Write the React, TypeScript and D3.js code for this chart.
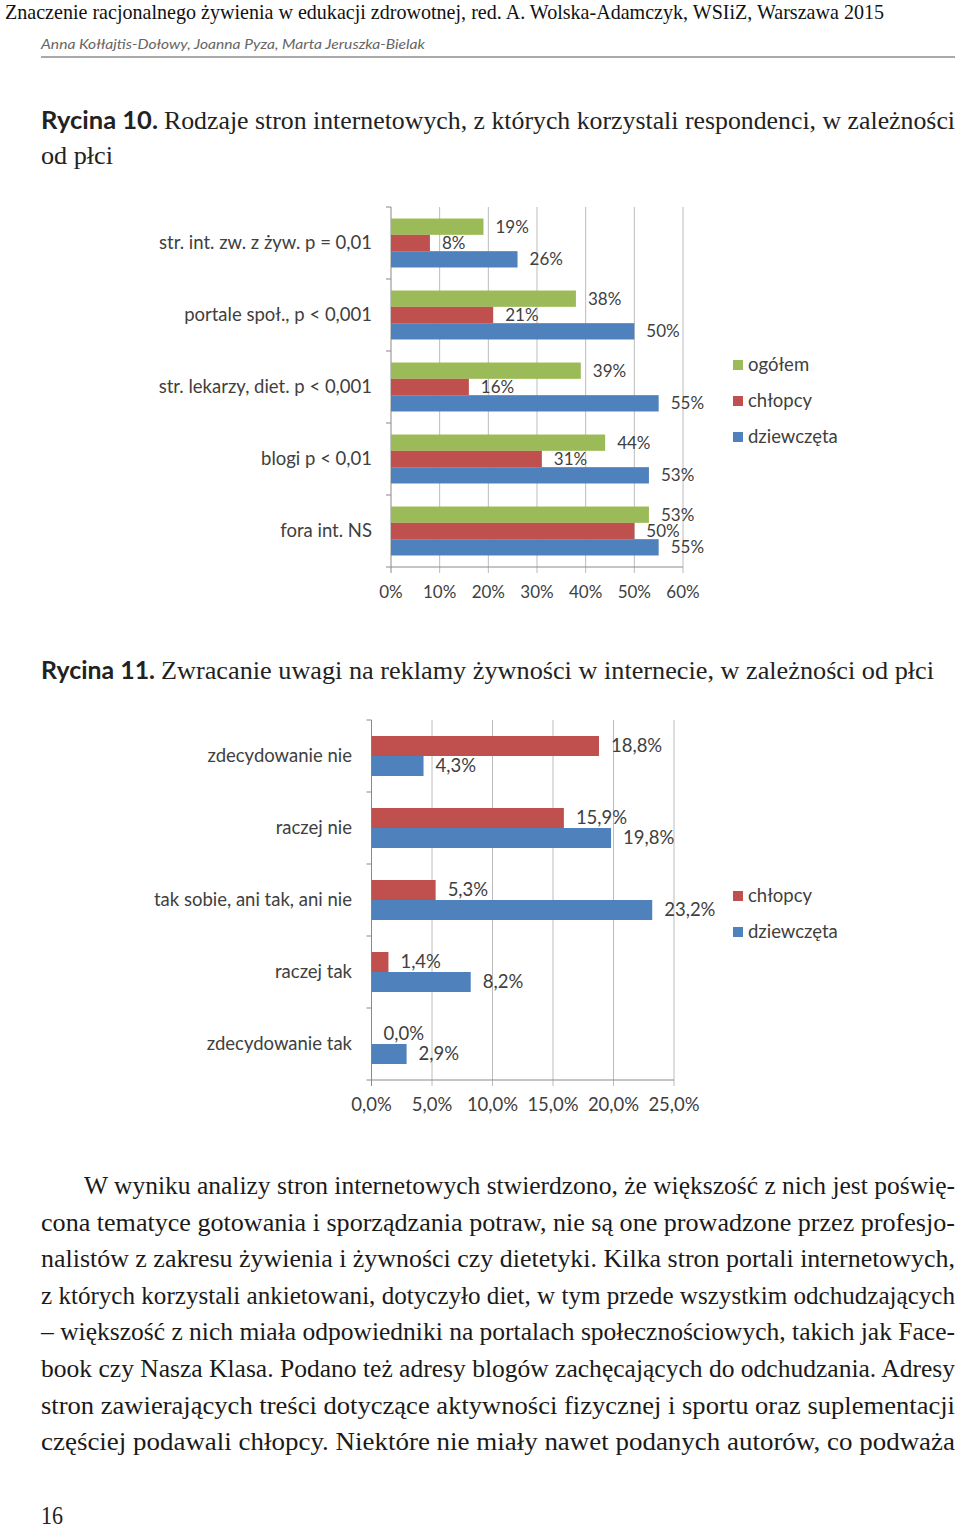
import React from "react";
import * as d3 from "d3";

// ---------- Data: Rycina 10 ----------
const cats1 = [
  "str. int. zw. z żyw. p = 0,01",
  "portale społ., p < 0,001",
  "str. lekarzy, diet. p < 0,001",
  "blogi p < 0,01",
  "fora int. NS",
];
const series1 = ["ogółem", "chłopcy", "dziewczęta"];
const ogolem1 = [19, 38, 39, 44, 53];
const chlopcy1 = [8, 21, 16, 31, 50];
const dziewczeta1 = [26, 50, 55, 53, 55];
const ticks1 = [0, 10, 20, 30, 40, 50, 60];

// ---------- Data: Rycina 11 ----------
const cats2 = [
  "zdecydowanie nie",
  "raczej nie",
  "tak sobie, ani tak, ani nie",
  "raczej tak",
  "zdecydowanie tak",
];
const series2 = ["chłopcy", "dziewczęta"];
const chlopcy2 = [18.8, 15.9, 5.3, 1.4, 0.0];
const dziewczeta2 = [4.3, 19.8, 23.2, 8.2, 2.9];
const ticks2 = [0, 5, 10, 15, 20, 25];

const colors: Record<string, string> = {
  "ogółem": "#9BBB59",
  "chłopcy": "#C0504D",
  "dziewczęta": "#4F81BD",
};

const headerText =
  "Znaczenie racjonalnego żywienia w edukacji zdrowotnej, red. A. Wolska-Adamczyk, WSIiZ, Warszawa 2015";
const authorsText = "Anna Kołłajtis-Dołowy, Joanna Pyza, Marta Jeruszka-Bielak";
const title1a = "Rycina 10.";
const title1b = "Rodzaje stron internetowych, z których korzystali respondenci, w zależności";
const title1c = "od płci";
const title2a = "Rycina 11.";
const title2b = "Zwracanie uwagi na reklamy żywności w internecie, w zależności od płci";
const bodyLines = [
  "W wyniku analizy stron internetowych stwierdzono, że większość z nich jest poświę-",
  "cona tematyce gotowania i sporządzania potraw, nie są one prowadzone przez profesjo-",
  "nalistów z zakresu żywienia i żywności czy dietetyki. Kilka stron portali internetowych,",
  "z których korzystali ankietowani, dotyczyło diet, w tym przede wszystkim odchudzających",
  "– większość z nich miała odpowiedniki na portalach społecznościowych, takich jak Face-",
  "book czy Nasza Klasa. Podano też adresy blogów zachęcających do odchudzania. Adresy",
  "stron zawierających treści dotyczące aktywności fizycznej i sportu oraz suplementacji",
  "częściej podawali chłopcy. Niektóre nie miały nawet podanych autorów, co podważa",
];
const pageNumber = "16";

const chartFont = "Lato, 'Open Sans', sans-serif";
const serif = "'Liberation Serif', 'DejaVu Serif', serif";
const textCol = "#404040";

type ChartProps = {
  cats: string[];
  series: string[];
  values: number[][];
  ticks: number[];
  xMax: number;
  x0: number;
  x1: number;
  y0: number;
  y1: number;
  outerPad: number;
  labelRight: number;
  fmt: (v: number) => string;
  legendX: number;
  legendY: number[];
  numSize: number;
};

function BarChart(p: ChartProps) {
  const x = d3.scaleLinear().domain([0, p.xMax]).range([p.x0, p.x1]);
  const y = d3.scaleBand<string>().domain(p.cats).range([p.y0, p.y1]);
  const inner = d3
    .scaleBand<string>()
    .domain(p.series)
    .range([0, y.bandwidth()])
    .paddingInner(0)
    .paddingOuter(p.outerPad);
  const boundaries = p.cats.map((c) => y(c)!).concat([p.y1]);
  const catSize = 18.5;
  return (
    <g fontFamily={chartFont}>
      {p.ticks.map((t) => (
        <line
          key={"g" + t}
          x1={x(t)}
          x2={x(t)}
          y1={p.y0}
          y2={p.y1 + 6}
          stroke={t === 0 ? "#8a8a8a" : "#bcbcbc"}
          strokeWidth={1}
        />
      ))}
      <line x1={p.x0} x2={p.x1} y1={p.y1} y2={p.y1} stroke="#8a8a8a" />
      {boundaries.map((b, i) => (
        <line key={"yt" + i} x1={p.x0 - 5} x2={p.x0} y1={b} y2={b} stroke="#8a8a8a" />
      ))}
      {p.cats.map((c, ci) =>
        p.series.map((s, si) => {
          const v = p.values[si][ci];
          const by = y(c)! + inner(s)!;
          return (
            <rect
              key={c + s}
              x={p.x0}
              y={by}
              width={x(v) - p.x0}
              height={inner.bandwidth()}
              fill={colors[s]}
            />
          );
        })
      )}
      {p.cats.map((c, ci) =>
        p.series.map((s, si) => {
          const v = p.values[si][ci];
          const by = y(c)! + inner(s)! + inner.bandwidth() / 2;
          return (
            <text
              key={"l" + c + s}
              x={x(v) + 12}
              y={by + 6}
              fontSize={p.numSize}
              fill={textCol}
            >
              {p.fmt(v)}
            </text>
          );
        })
      )}
      {p.cats.map((c) => (
        <text
          key={"c" + c}
          x={p.labelRight}
          y={y(c)! + y.bandwidth() / 2 + 6}
          fontSize={catSize}
          textAnchor="end"
          fill={textCol}
        >
          {c}
        </text>
      ))}
      {p.ticks.map((t) => (
        <text
          key={"xl" + t}
          x={x(t)}
          y={p.y1 + 31}
          fontSize={p.numSize}
          textAnchor="middle"
          fill={textCol}
        >
          {p.fmt(t)}
        </text>
      ))}
      {p.series.map((s, i) => (
        <g key={"lg" + s}>
          <rect x={p.legendX} y={p.legendY[i] - 5} width={10} height={10} fill={colors[s]} />
          <text x={p.legendX + 15} y={p.legendY[i] + 6} fontSize={catSize} fill={textCol}>
            {s}
          </text>
        </g>
      ))}
    </g>
  );
}

export default function App() {
  const fmtPct = (v: number) => `${d3.format(".0f")(v)}%`;
  const fmtPct1 = (v: number) => `${d3.format(".1f")(v).replace(".", ",")}%`;
  return (
    <svg
      width={960}
      height={1526}
      style={{ position: "absolute", left: 0, top: 0, background: "#fff" }}
    >
      <rect x={0} y={0} width={960} height={1526} fill="#fff" />
      <text x={5} y={19} fontFamily={serif} fontSize={21} fill="#111" textLength={879} lengthAdjust="spacingAndGlyphs">
        {headerText}
      </text>
      <text x={41} y={49} fontFamily={chartFont} fontStyle="italic" fontSize={14} fill="#666" textLength={384} lengthAdjust="spacingAndGlyphs">
        {authorsText}
      </text>
      <line x1={41} x2={955} y1={57} y2={57} stroke="#8c8c8c" strokeWidth={1.5} />

      <text x={41} y={129} fontFamily={chartFont} fontWeight={700} fontSize={24} fill="#222" textLength={117} lengthAdjust="spacingAndGlyphs">
        {title1a}
      </text>
      <text x={164} y={129} fontFamily={serif} fontSize={26} fill="#222" textLength={791} lengthAdjust="spacingAndGlyphs">
        {title1b}
      </text>
      <text x={41} y={164} fontFamily={serif} fontSize={26} fill="#222" textLength={72} lengthAdjust="spacingAndGlyphs">
        {title1c}
      </text>

      <BarChart
        cats={cats1}
        series={series1}
        values={[ogolem1, chlopcy1, dziewczeta1]}
        ticks={ticks1}
        xMax={60}
        x0={391}
        x1={683}
        y0={207}
        y1={567}
        outerPad={0.705}
        labelRight={372}
        fmt={fmtPct}
        legendX={733}
        legendY={[365, 401, 437]}
        numSize={17}
      />

      <text x={41} y={679} fontFamily={chartFont} fontWeight={700} fontSize={24} fill="#222" textLength={114} lengthAdjust="spacingAndGlyphs">
        {title2a}
      </text>
      <text x={161} y={679} fontFamily={serif} fontSize={26} fill="#222" textLength={773} lengthAdjust="spacingAndGlyphs">
        {title2b}
      </text>

      <BarChart
        cats={cats2}
        series={series2}
        values={[chlopcy2, dziewczeta2]}
        ticks={ticks2}
        xMax={25}
        x0={371.5}
        x1={674}
        y0={720}
        y1={1080}
        outerPad={0.8}
        labelRight={352}
        fmt={fmtPct1}
        legendX={733}
        legendY={[896, 932]}
        numSize={18.5}
      />

      {bodyLines.map((l, i) => {
        const xs = i === 0 ? 84 : 41;
        return (
          <text
            key={"b" + i}
            x={xs}
            y={1194 + i * 36.6}
            fontFamily={serif}
            fontSize={26}
            fill="#1a1a1a"
            textLength={955 - xs}
            lengthAdjust="spacingAndGlyphs"
          >
            {l}
          </text>
        );
      })}
      <text x={41} y={1524} fontFamily={serif} fontSize={25} fill="#222" textLength={22} lengthAdjust="spacingAndGlyphs">
        {pageNumber}
      </text>
    </svg>
  );
}
